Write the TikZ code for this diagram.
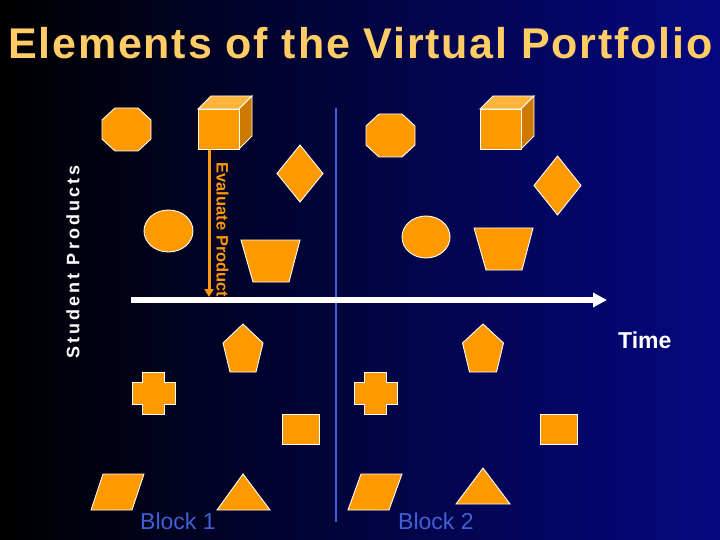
\documentclass[tikz,border=0pt]{standalone}
\usepackage{fontspec}
\setmainfont{Liberation Sans}
\newfontfamily\titlefont[LetterSpace=4.2]{Liberation Sans}
\newfontfamily\spacedfont[LetterSpace=17]{Liberation Sans}
\usetikzlibrary{arrows.meta}
\definecolor{shporange}{RGB}{255,153,0}
\definecolor{shpdark}{RGB}{204,122,0}
\definecolor{shplight}{RGB}{255,180,60}
\definecolor{titlecol}{RGB}{255,204,102}
\definecolor{blockblue}{RGB}{64,96,216}
\definecolor{navyend}{RGB}{4,8,128}
\tikzset{
  shp/.style={fill=shporange, draw=white, line width=0.9pt, line join=miter},
  blocklabel/.style={text=blockblue, font=\fontsize{23}{23}\selectfont, inner sep=0pt},
}
\begin{document}
\begin{tikzpicture}[x=1pt,y=-1pt]
\useasboundingbox (0,0) rectangle (720,540);
\shade[left color=black, right color=navyend] (0,0) rectangle (720,540);

% title
\node[anchor=base west, inner sep=0pt, text=titlecol, font=\titlefont\bfseries\fontsize{43}{43}\selectfont] (title) at (8,59) {Elements of the Virtual Portfolio};

% side label
\node[rotate=90, inner sep=0pt, text=white, font=\spacedfont\bfseries\fontsize{18}{18}\selectfont] (student) at (73,262) {Student Products};

% divider
\coordinate (divtop) at (336,108);
\coordinate (divbot) at (336,522);
\draw[blockblue, line width=2pt] (divtop) -- (divbot);

% time axis
\coordinate (axisL) at (131,300);
\coordinate (axisR) at (607,300);
\draw[white, line width=6pt, -{Triangle[length=14pt,width=14pt]}] (axisL) -- (axisR);
\node[anchor=base west, inner sep=0pt, text=white, font=\bfseries\fontsize{23}{23}\selectfont] (time) at (618,348) {Time};

% ---------- Block 1 ----------
% octagon
\draw[shp] (115,108) -- (138,108) -- (151,120) -- (151,139) -- (138,151) -- (115,151) -- (102,139) -- (102,120) -- cycle;
% cube
\draw[shp, fill=shplight] (198,109) -- (211,96) -- (252,96) -- (239,109) -- cycle;
\draw[shp, fill=shpdark] (239,109) -- (252,96) -- (252,136) -- (239,149) -- cycle;
\node[shp, rectangle, minimum width=41pt, minimum height=40pt, inner sep=0pt, anchor=north west] (cube1) at (198,109) {};
% diamond
\draw[shp] (300,145) -- (323,173.5) -- (300,202) -- (277,173.5) -- cycle;
% ellipse
\draw[shp] (168.5,231) ellipse [x radius=24.5, y radius=21];
% trapezoid
\draw[shp] (241,240) -- (300,240) -- (289,282) -- (253,282) -- cycle;
% pentagon
\draw[shp] (243,324) -- (263,343) -- (256,372) -- (230,372) -- (223,343) -- cycle;
% cross
\draw[shp] (142.5,372) -- (164.5,372) -- (164.5,382) -- (175,382) -- (175,404) -- (164.5,404) -- (164.5,414) -- (142.5,414) -- (142.5,404) -- (132,404) -- (132,382) -- (142.5,382) -- cycle;
% rectangle
\draw[shp] (282,414) rectangle (319,444);
% parallelogram
\draw[shp] (91,510) -- (103,474) -- (144,474) -- (132,510) -- cycle;
% triangle
\draw[shp] (243,474) -- (270,510) -- (217,510) -- cycle;
\node[blocklabel, anchor=base west] (block1) at (140,529) {Block 1};

% evaluate arrow
\coordinate (evalend) at (209,297);
\draw[shporange, line width=3pt, -{Triangle[length=8pt,width=9pt]}] (cube1.south -| evalend) -- (evalend);
\node[rotate=-90, inner sep=0pt, text=shporange, font=\bfseries\fontsize{16.5}{16.5}\selectfont] (evaluate) at (222.5,230) {Evaluate Product};

% ---------- Block 2 ----------
\draw[shp] (379,114) -- (402,114) -- (415,126) -- (415,145) -- (402,157) -- (379,157) -- (366,145) -- (366,126) -- cycle;
\draw[shp, fill=shplight] (480,109) -- (493,96) -- (534,96) -- (521,109) -- cycle;
\draw[shp, fill=shpdark] (521,109) -- (534,96) -- (534,136) -- (521,149) -- cycle;
\node[shp, rectangle, minimum width=41pt, minimum height=40pt, inner sep=0pt, anchor=north west] (cube2) at (480,109) {};
\draw[shp] (557.5,156) -- (581,185.5) -- (557.5,215) -- (534,185.5) -- cycle;
\draw[shp] (426,237) ellipse [x radius=24, y radius=21];
\draw[shp] (474,228) -- (533,228) -- (522,270) -- (486,270) -- cycle;
\draw[shp] (483,324) -- (503.5,343) -- (496.5,372) -- (469.5,372) -- (462.5,343) -- cycle;
\draw[shp] (364.5,372) -- (386.5,372) -- (386.5,382) -- (397,382) -- (397,404) -- (386.5,404) -- (386.5,414) -- (364.5,414) -- (364.5,404) -- (354,404) -- (354,382) -- (364.5,382) -- cycle;
\draw[shp] (540,414) rectangle (577,444);
\draw[shp] (348,510) -- (361,474) -- (402,474) -- (389,510) -- cycle;
\draw[shp] (483,468) -- (510,504) -- (456,504) -- cycle;
\node[blocklabel, anchor=base west] (block2) at (398,529) {Block 2};
\end{tikzpicture}
\end{document}
